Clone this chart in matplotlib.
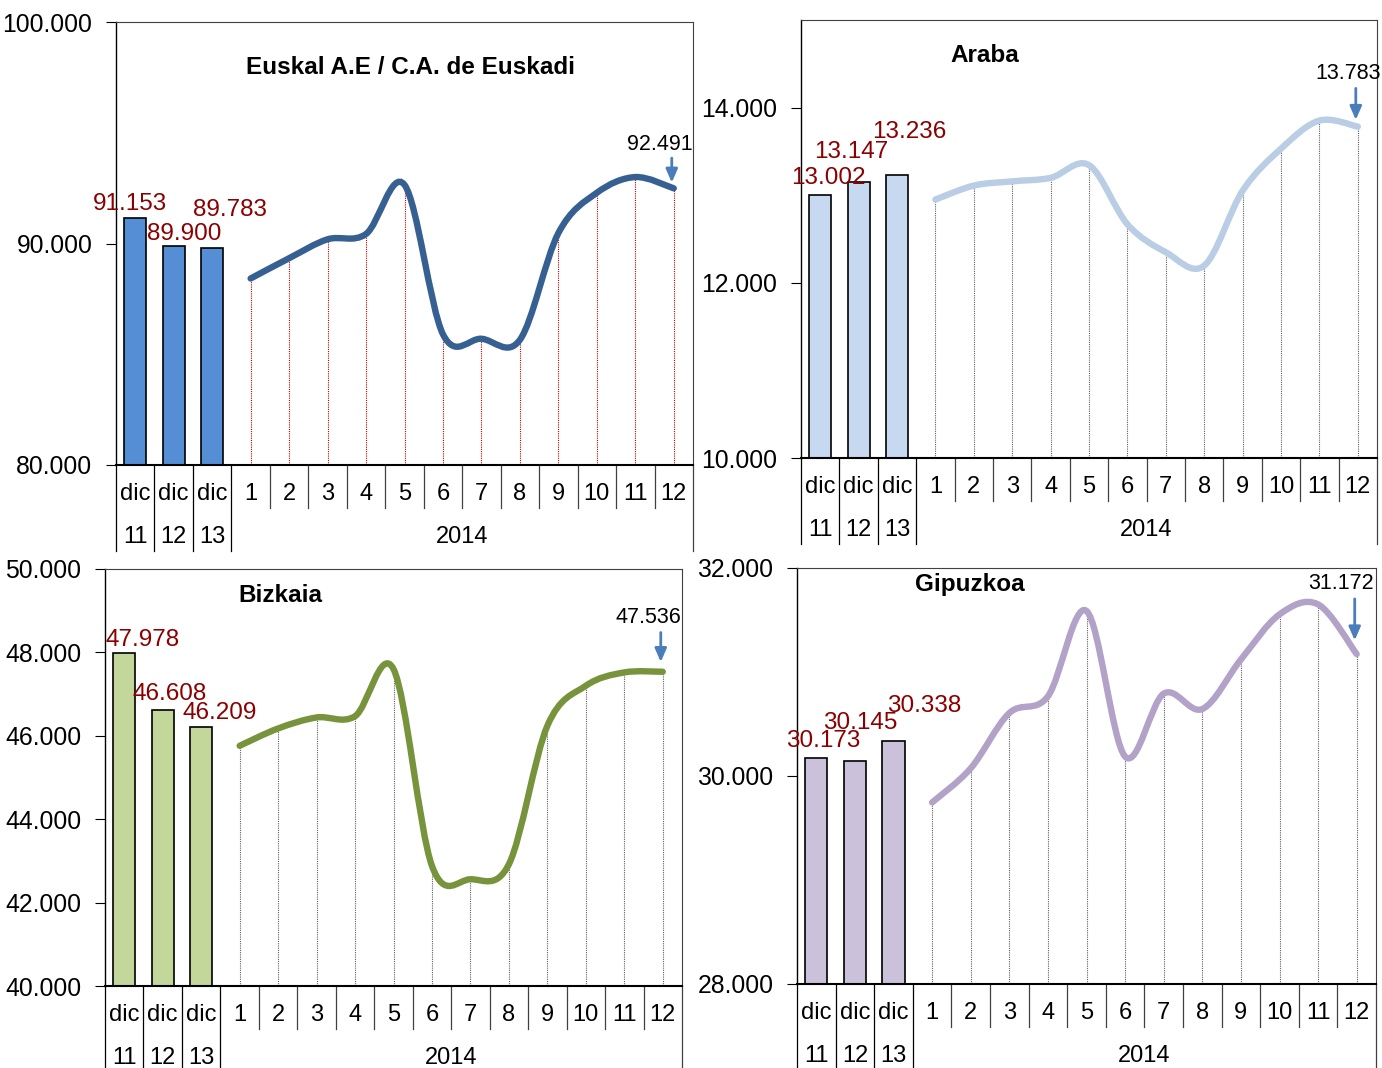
import numpy as np
import matplotlib.pyplot as plt
from matplotlib.path import Path
from matplotlib.patches import PathPatch
from matplotlib.transforms import offset_copy, blended_transform_factory
from matplotlib.ticker import FuncFormatter, MultipleLocator

plt.rcParams['font.family'] = ['Liberation Sans', 'DejaVu Sans']

# datos
dic_labels = ["dic", "dic", "dic"]
dic_years = ["11", "12", "13"]
months = [str(m) for m in range(1, 13)]
year_label = "2014"

titles = ["Euskal A.E / C.A. de Euskadi", "Araba", "Bizkaia", "Gipuzkoa"]
dic_values = [
    [91153, 89900, 89783],
    [13002, 13147, 13236],
    [47978, 46608, 46209],
    [30173, 30145, 30338],
]
month_values = [
    [88420, 89335, 90190, 90430, 92650, 85900, 85700, 85650, 90470, 92290, 93000, 92491],
    [12950, 13110, 13158, 13198, 13343, 12669, 12349, 12196, 13050, 13531, 13852, 13783],
    [45760, 46176, 46440, 46470, 47600, 42880, 42560, 42920, 46240, 47200, 47520, 47536],
    [29746, 30074, 30605, 30766, 31587, 30187, 30792, 30644, 31120, 31554, 31650, 31172],
]
y_limits = [(80000, 100000), (10000, 15000), (40000, 50000), (28000, 32000)]
y_steps = [10000, 2000, 2000, 2000]

# estilo
bar_colors = ["#558ED5", "#C6D9F1", "#C4D79B", "#CCC1DA"]
line_colors = ["#376092", "#B9CDE5", "#77933C", "#B3A2C7"]
drop_colors = ["#C00000", "#606060", "#606060", "#606060"]
# posicion en pixeles: izquierda, derecha, arriba, abajo
boxes = [(116, 693, 22, 465), (801, 1377, 20, 458), (105, 682, 569, 986), (797, 1376, 568, 984)]
title_pos = [(410, 67), (985, 55), (280, 596), (970, 585)]
label_off = [
    [(-5, 14), (10, 12), (18, 38)],
    [(8, 17), (-7, 30), (12, 43)],
    [(18, 13), (7, 16), (19, 14)],
    [(7, 17), (5, 38), (31, 35)],
]
last_off = [(-14, 44, 33, 3), (-10, 53, 41, 4), (-14, 54, 42, 7), (-16, 71, 58, 11)]

W, H = 1382, 1068
fig = plt.figure(figsize=(W / 100, H / 100), dpi=100)

def fmt(v, pos=None):
    return f"{v:,.0f}".replace(",", ".")

def smooth_path(xs, ys):
    # bezier tipo Excel (catmull-rom)
    pts = np.column_stack([xs, ys]).astype(float)
    n = len(pts)
    verts = [pts[0]]
    codes = [Path.MOVETO]
    for i in range(n - 1):
        p0 = pts[max(i - 1, 0)]
        p1 = pts[i]
        p2 = pts[i + 1]
        p3 = pts[min(i + 2, n - 1)]
        c1 = p1 + (p2 - p0) / 6
        c2 = p2 - (p3 - p1) / 6
        verts += [c1, c2, p2]
        codes += [Path.CURVE4] * 3
    return Path(verts, codes)

for k in range(4):
    l, r, t, b = boxes[k]
    hpx = b - t
    ax = fig.add_axes([l / W, 1 - b / H, (r - l) / W, hpx / H])
    ymin, ymax = y_limits[k]
    ax.set_xlim(-0.5, 14.5)
    ax.set_ylim(ymin, ymax)

    xb = np.arange(3)
    xm = np.arange(3, 15)
    ax.bar(xb, dic_values[k], width=0.57, color=bar_colors[k], edgecolor="black", linewidth=1.2, zorder=2)
    ax.vlines(xm, ymin, month_values[k], colors=drop_colors[k], linestyles=(0, (1, 1)), linewidth=0.8, zorder=1)
    ax.add_patch(PathPatch(smooth_path(xm, month_values[k]), facecolor="none",
                           edgecolor=line_colors[k], linewidth=4.6, capstyle="round", zorder=3))

    for i in range(3):
        dx, dy = label_off[k][i]
        ax.annotate(fmt(dic_values[k][i]), (xb[i], dic_values[k][i]), xytext=(dx, dy),
                    textcoords="offset pixels", ha="center", va="center",
                    fontsize=17.5, color="#8B0000", zorder=4)

    dx, dy, a0, a1 = last_off[k]
    ax.annotate(fmt(month_values[k][-1]), (xm[-1], month_values[k][-1]), xytext=(dx, dy),
                textcoords="offset pixels", ha="center", va="center", fontsize=15.5, color="black")
    tr = offset_copy(ax.transData, fig=fig, x=-2, y=a1, units="dots")
    ax.annotate("", xy=(xm[-1], month_values[k][-1]), xycoords=tr,
                xytext=(0, a0 - a1), textcoords="offset pixels",
                arrowprops=dict(arrowstyle="-|>,head_length=0.8,head_width=0.35", color="#4A7EBB", lw=2))

    tx, ty = title_pos[k]
    fig.text(tx / W, 1 - ty / H, titles[k], ha="center", va="center", fontsize=17.5, fontweight="bold")

    # ejes
    ax.yaxis.set_major_locator(MultipleLocator(y_steps[k]))
    ax.yaxis.set_major_formatter(FuncFormatter(fmt))
    ax.tick_params(axis="y", direction="out", length=7, width=0.8, labelsize=17.8, pad=10)
    ax.set_xticks([])
    for s in ["top", "right"]:
        ax.spines[s].set_color("#404040")
        ax.spines[s].set_linewidth(0.8)
    ax.spines["left"].set_linewidth(1.0)
    ax.spines["bottom"].set_linewidth(1.5)

    trans = blended_transform_factory(ax.transData, ax.transAxes)
    row1 = -29 / hpx
    row2 = -72 / hpx
    short_end = -43 / hpx
    long_end = -(min(b + 86, H) - b) / hpx
    for i in range(3):
        ax.text(xb[i], row1, dic_labels[i], transform=trans, ha="center", va="center", fontsize=17)
        ax.text(xb[i], row2, dic_years[i], transform=trans, ha="center", va="center", fontsize=17)
    for i in range(12):
        ax.text(xm[i], row1, months[i], transform=trans, ha="center", va="center", fontsize=17)
    ax.text(np.mean(xm), row2, year_label, transform=trans, ha="center", va="center", fontsize=17)
    for xs in np.arange(-0.5, 15, 1.0):
        end = long_end if (xs < 3 or xs > 14) else short_end
        col = "black" if xs < 3 else "#404040"
        ax.plot([xs, xs], [0, end], transform=trans, color=col, lw=0.9, clip_on=False)

fig.savefig("out.png", dpi=100)
